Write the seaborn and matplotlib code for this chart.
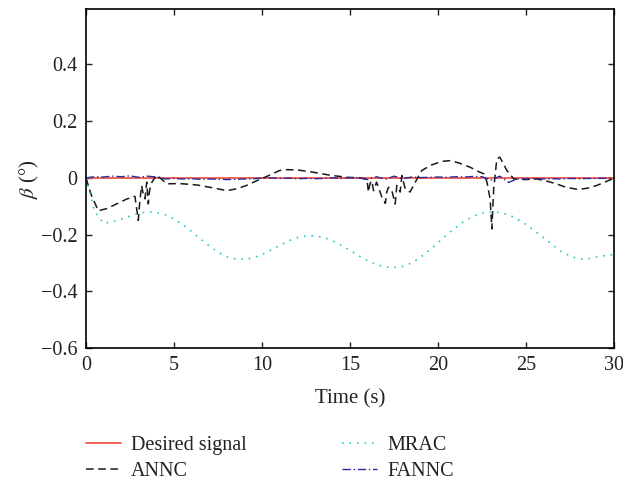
"""
Sideslip angle tracking: desired signal vs ANNC, MRAC, FANNC
"""
import numpy as np
import matplotlib
matplotlib.use('Agg')
import matplotlib.pyplot as plt
import seaborn as sns

# time grid shared by the smooth series (s)
t_grid = np.arange(0, 30.5, 0.5)

desired_t = [0, 30]
desired_beta = [0, 0]

mrac_beta = [0.0, -0.12, -0.16, -0.155, -0.145, -0.135, -0.125, -0.12, -0.122, -0.13,
             -0.145, -0.165, -0.19, -0.215, -0.24, -0.262, -0.278, -0.286, -0.287, -0.282,
             -0.27, -0.255, -0.238, -0.222, -0.211, -0.205, -0.205, -0.21, -0.222, -0.238,
             -0.256, -0.275, -0.292, -0.306, -0.314, -0.316, -0.312, -0.3, -0.28, -0.255,
             -0.228, -0.2, -0.175, -0.152, -0.135, -0.124, -0.12, -0.122, -0.13, -0.145,
             -0.165, -0.188, -0.212, -0.237, -0.26, -0.276, -0.286, -0.285, -0.279, -0.274,
             -0.27]

fannc_beta = [0.0, 0.004, 0.003, 0.006, 0.004, 0.007, 0.002, 0.006, 0.003, -0.004,
              -0.002, -0.004, -0.003, -0.005, -0.004, -0.005, -0.006, -0.005, -0.004, -0.003,
              -0.001, 0.0, -0.002, -0.001, -0.003, -0.002, -0.003, -0.002, 0.0, -0.002,
              0.001, 0.0, -0.006, 0.004, -0.005, 0.006, -0.003, 0.003, 0.001, 0.002,
              0.003, 0.002, 0.004, 0.003, 0.005, 0.004, -0.008, 0.006, -0.016, -0.003,
              -0.004, -0.002, -0.004, -0.003, -0.004, -0.002, -0.003, -0.002, -0.002, -0.001,
              0.0]

annc_t = [0, 0.3, 0.7, 1.2, 1.8, 2.3, 2.78, 2.97, 3.06, 3.16, 3.26, 3.35, 3.45, 3.54,
          3.6, 3.67, 3.75, 3.85, 4.0, 4.2, 4.6, 5.3, 6.3, 7.2, 8.0, 8.6, 9.1, 9.7, 10.3,
          11.0, 11.4, 12.0, 12.9, 13.8, 14.8, 15.5, 15.95, 16.04, 16.13, 16.23, 16.33,
          16.42, 16.5, 16.65, 16.8, 17.0, 17.08, 17.18, 17.37, 17.56, 17.65, 17.84, 17.94,
          18.13, 18.4, 18.7, 19.07, 19.6, 20.2, 20.7, 21.2, 21.8, 22.3, 22.6, 22.77, 22.95,
          23.05, 23.15, 23.33, 23.5, 23.7, 23.9, 24.3, 25.0, 25.6, 26.2, 26.7, 27.3, 27.97,
          28.5, 29.0, 29.5, 30.0]
annc_beta = [0, -0.06, -0.116, -0.108, -0.09, -0.075, -0.065, -0.15, -0.08, -0.027, -0.06,
             -0.074, -0.015, -0.092, -0.05, -0.027, -0.015, -0.005, 0.01, 0.0, -0.021, -0.02,
             -0.025, -0.035, -0.045, -0.038, -0.027, -0.01, 0.006, 0.026, 0.029, 0.028, 0.02,
             0.01, 0.002, 0.0, -0.004, -0.05, -0.02, -0.01, -0.045, -0.03, -0.015, -0.04,
             -0.068, -0.09, -0.05, -0.033, -0.045, -0.092, -0.027, -0.05, 0.008, -0.039,
             -0.05, -0.015, 0.026, 0.045, 0.058, 0.061, 0.052, 0.038, 0.022, 0.014, -0.015,
             -0.074, -0.18, -0.04, 0.067, 0.073, 0.05, 0.026, -0.004, -0.006, -0.004, -0.012,
             -0.021, -0.034, -0.041, -0.036, -0.027, -0.014, -0.001]

y_ticks = [-0.6, -0.4, -0.2, 0, 0.2, 0.4]
y_tick_labels = ['\u22120.6', '\u22120.4', '\u22120.2', '0', '0.2', '0.4']
x_ticks = [0, 5, 10, 15, 20, 25, 30]

sns.set_theme(style='ticks')
plt.rcParams['font.family'] = ['Liberation Serif', 'DejaVu Serif']
plt.rcParams['mathtext.fontset'] = 'stix'

fig = plt.figure(figsize=(6.23, 4.82), dpi=100)
ax = fig.add_axes([0.138, 0.278, 0.848, 0.703])

sns.lineplot(x=desired_t, y=desired_beta, ax=ax, color='#f0584a', lw=1.3,
             label='Desired signal')
sns.lineplot(x=annc_t, y=annc_beta, ax=ax, color='#1a1a1a', lw=1.1,
             linestyle=(0, (5, 3)), label='ANNC')
sns.lineplot(x=t_grid, y=mrac_beta, ax=ax, color='#2ec4c4', lw=1.2,
             linestyle=(0, (1, 3.5)), label='MRAC')
sns.lineplot(x=t_grid, y=fannc_beta, ax=ax, color='#2b2b9e', lw=1.0,
             linestyle=(0, (6, 2, 1, 2)), label='FANNC')

ax.set_xlim(0, 30)
ax.set_ylim(-0.6, 0.595)
ax.set_xticks(x_ticks)
ax.set_yticks(y_ticks)
ax.set_yticklabels(y_tick_labels)
ax.set_xlabel('Time (s)', fontsize=15, labelpad=10, color='#222222')
ax.set_ylabel(r'$\beta$ (°)', fontsize=15, labelpad=0, color='#222222')
ax.tick_params(direction='in', length=4, width=1.0, top=True, right=True,
               labelsize=14.5, colors='#222222', pad=6)
for sp in ax.spines.values():
    sp.set_linewidth(1.2)
    sp.set_color('black')

handles, labels = ax.get_legend_handles_labels()
ax.get_legend().remove()
leg = fig.legend(handles, labels, ncol=2, loc='upper left', bbox_to_anchor=(0.138, 0.095),
                 frameon=False, fontsize=14.5, handlelength=1.75, handletextpad=0.5,
                 columnspacing=4.7, labelspacing=0.35, borderpad=0, borderaxespad=0)
for txt in leg.get_texts():
    txt.set_color('#222222')

fig.savefig('out.png', dpi=100)
